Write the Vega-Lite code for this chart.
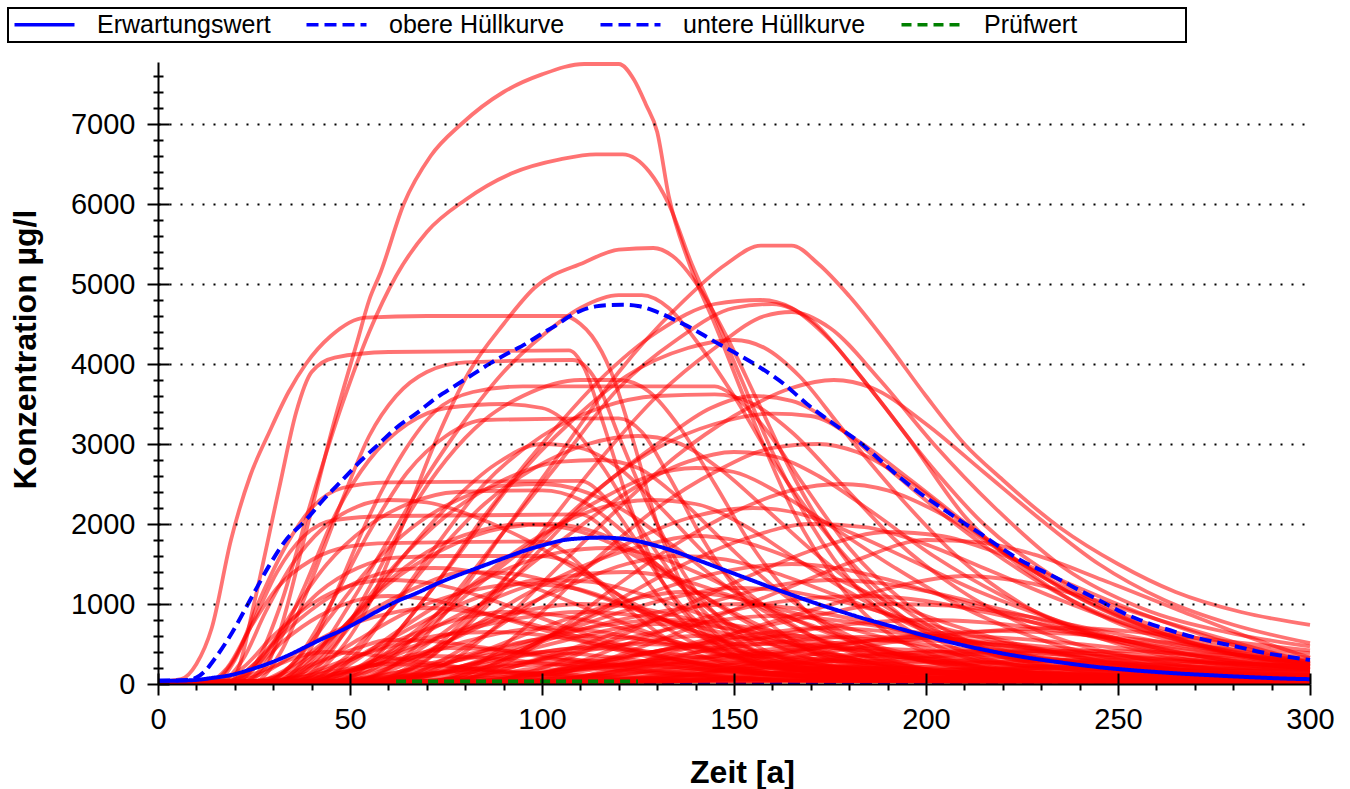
{
"$schema":"https://vega.github.io/schema/vega-lite/v6.json",
"width":1152,"height":622,
"autosize":"none",
"padding":{"left":158,"top":62,"right":40,"bottom":105},
"background":"white",
"config":{"view":{"stroke":null},"font":"Liberation Sans",
"legend":{"orient":"none","legendX":-150,"legendY":-54,"direction":"horizontal","columns":4,"strokeColor":"black","strokeWidth":2,"padding":4,"symbolType":"M-1,0H5","symbolSize":400,"symbolStrokeWidth":3.5,"labelFont":"Liberation Sans","labelFontSize":25,"labelColor":"black","labelOffset":60,"labelLimit":0,"columnPadding":28,"gridAlign":"each"}},
"datasets":{
"blue":[
{"s":"untere Hüllkurve","t":0,"v":0},{"s":"untere Hüllkurve","t":100,"v":0},{"s":"untere Hüllkurve","t":200,"v":0},{"s":"untere Hüllkurve","t":300,"v":0},
{"s":"Erwartungswert","t":0,"v":40},{"s":"Erwartungswert","t":5,"v":42},{"s":"Erwartungswert","t":9.6,"v":50},{"s":"Erwartungswert","t":14,"v":75},{"s":"Erwartungswert","t":19,"v":112},{"s":"Erwartungswert","t":24,"v":180},{"s":"Erwartungswert","t":29,"v":260},{"s":"Erwartungswert","t":34,"v":360},{"s":"Erwartungswert","t":38.5,"v":465},{"s":"Erwartungswert","t":43,"v":570},{"s":"Erwartungswert","t":48,"v":675},{"s":"Erwartungswert","t":53,"v":800},{"s":"Erwartungswert","t":57.7,"v":925},{"s":"Erwartungswert","t":62,"v":1030},{"s":"Erwartungswert","t":67.3,"v":1135},{"s":"Erwartungswert","t":72,"v":1240},{"s":"Erwartungswert","t":77,"v":1340},{"s":"Erwartungswert","t":82,"v":1430},{"s":"Erwartungswert","t":86.5,"v":1510},{"s":"Erwartungswert","t":91,"v":1590},{"s":"Erwartungswert","t":96,"v":1675},{"s":"Erwartungswert","t":101,"v":1745},{"s":"Erwartungswert","t":105.8,"v":1800},{"s":"Erwartungswert","t":110,"v":1820},{"s":"Erwartungswert","t":115.4,"v":1830},{"s":"Erwartungswert","t":120,"v":1820},{"s":"Erwartungswert","t":125,"v":1785},{"s":"Erwartungswert","t":130,"v":1725},{"s":"Erwartungswert","t":135,"v":1650},{"s":"Erwartungswert","t":140,"v":1560},{"s":"Erwartungswert","t":145,"v":1470},{"s":"Erwartungswert","t":150,"v":1380},{"s":"Erwartungswert","t":155,"v":1290},{"s":"Erwartungswert","t":160,"v":1200},{"s":"Erwartungswert","t":165,"v":1115},{"s":"Erwartungswert","t":170,"v":1030},{"s":"Erwartungswert","t":177,"v":920},{"s":"Erwartungswert","t":183,"v":830},{"s":"Erwartungswert","t":190,"v":735},{"s":"Erwartungswert","t":197,"v":640},{"s":"Erwartungswert","t":204,"v":550},{"s":"Erwartungswert","t":211,"v":470},{"s":"Erwartungswert","t":218,"v":400},{"s":"Erwartungswert","t":225,"v":340},{"s":"Erwartungswert","t":232,"v":290},{"s":"Erwartungswert","t":239,"v":245},{"s":"Erwartungswert","t":246,"v":205},{"s":"Erwartungswert","t":253,"v":175},{"s":"Erwartungswert","t":260,"v":150},{"s":"Erwartungswert","t":267,"v":128},{"s":"Erwartungswert","t":274,"v":110},{"s":"Erwartungswert","t":281,"v":93},{"s":"Erwartungswert","t":288,"v":78},{"s":"Erwartungswert","t":294,"v":67},{"s":"Erwartungswert","t":300,"v":60},
{"s":"obere Hüllkurve","t":0,"v":40},{"s":"obere Hüllkurve","t":8,"v":50},{"s":"obere Hüllkurve","t":10,"v":80},{"s":"obere Hüllkurve","t":12,"v":150},{"s":"obere Hüllkurve","t":15,"v":330},{"s":"obere Hüllkurve","t":19.2,"v":635},{"s":"obere Hüllkurve","t":24,"v":1050},{"s":"obere Hüllkurve","t":28.8,"v":1467},{"s":"obere Hüllkurve","t":33,"v":1780},{"s":"obere Hüllkurve","t":38.5,"v":2050},{"s":"obere Hüllkurve","t":43,"v":2300},{"s":"obere Hüllkurve","t":48,"v":2550},{"s":"obere Hüllkurve","t":53,"v":2800},{"s":"obere Hüllkurve","t":57.7,"v":3008},{"s":"obere Hüllkurve","t":62,"v":3200},{"s":"obere Hüllkurve","t":67.3,"v":3383},{"s":"obere Hüllkurve","t":72,"v":3560},{"s":"obere Hüllkurve","t":77,"v":3717},{"s":"obere Hüllkurve","t":82,"v":3870},{"s":"obere Hüllkurve","t":86.5,"v":4008},{"s":"obere Hüllkurve","t":91,"v":4130},{"s":"obere Hüllkurve","t":96,"v":4258},{"s":"obere Hüllkurve","t":100,"v":4380},{"s":"obere Hüllkurve","t":103.8,"v":4487},{"s":"obere Hüllkurve","t":107,"v":4590},{"s":"obere Hüllkurve","t":110.6,"v":4675},{"s":"obere Hüllkurve","t":114,"v":4720},{"s":"obere Hüllkurve","t":117.3,"v":4737},{"s":"obere Hüllkurve","t":121,"v":4740},{"s":"obere Hüllkurve","t":125,"v":4725},{"s":"obere Hüllkurve","t":130,"v":4650},{"s":"obere Hüllkurve","t":134.6,"v":4550},{"s":"obere Hüllkurve","t":140,"v":4420},{"s":"obere Hüllkurve","t":144.2,"v":4300},{"s":"obere Hüllkurve","t":150.5,"v":4133},{"s":"obere Hüllkurve","t":157,"v":3950},{"s":"obere Hüllkurve","t":163,"v":3750},{"s":"obere Hüllkurve","t":169,"v":3500},{"s":"obere Hüllkurve","t":176,"v":3250},{"s":"obere Hüllkurve","t":183,"v":3010},{"s":"obere Hüllkurve","t":188,"v":2800},{"s":"obere Hüllkurve","t":193,"v":2590},{"s":"obere Hüllkurve","t":198,"v":2400},{"s":"obere Hüllkurve","t":203.6,"v":2215},{"s":"obere Hüllkurve","t":209,"v":2040},{"s":"obere Hüllkurve","t":214,"v":1885},{"s":"obere Hüllkurve","t":219,"v":1720},{"s":"obere Hüllkurve","t":224.5,"v":1550},{"s":"obere Hüllkurve","t":230,"v":1420},{"s":"obere Hüllkurve","t":235,"v":1300},{"s":"obere Hüllkurve","t":240,"v":1170},{"s":"obere Hüllkurve","t":245,"v":1050},{"s":"obere Hüllkurve","t":250,"v":920},{"s":"obere Hüllkurve","t":255.7,"v":800},{"s":"obere Hüllkurve","t":261,"v":710},{"s":"obere Hüllkurve","t":266,"v":635},{"s":"obere Hüllkurve","t":271,"v":570},{"s":"obere Hüllkurve","t":276.6,"v":510},{"s":"obere Hüllkurve","t":282,"v":455},{"s":"obere Hüllkurve","t":287,"v":400},{"s":"obere Hüllkurve","t":293,"v":350},{"s":"obere Hüllkurve","t":300,"v":300},
{"s":"Prüfwert","t":62,"v":30},{"s":"Prüfwert","t":125,"v":30}
],
"red":[
{"k":1,"t":0,"v":30},{"k":1,"t":22,"v":30},{"k":1,"t":28,"v":200},{"k":1,"t":32,"v":700},{"k":1,"t":38,"v":1800},{"k":1,"t":46,"v":3300},{"k":1,"t":52,"v":4300},{"k":1,"t":55,"v":4800},{"k":1,"t":58,"v":5150},{"k":1,"t":64,"v":6000},{"k":1,"t":71,"v":6600},{"k":1,"t":79,"v":7000},{"k":1,"t":90,"v":7400},{"k":1,"t":100,"v":7620},{"k":1,"t":111,"v":7750},{"k":1,"t":120,"v":7750},{"k":1,"t":124,"v":7550},{"k":1,"t":127,"v":7250},{"k":1,"t":130,"v":6900},{"k":1,"t":133,"v":6100},{"k":1,"t":138,"v":5300},{"k":1,"t":145,"v":4500},{"k":1,"t":155,"v":3300},{"k":1,"t":165,"v":2200},{"k":1,"t":178,"v":1200},{"k":1,"t":195,"v":500},{"k":1,"t":225,"v":150},{"k":1,"t":300,"v":30},
{"k":2,"t":0,"v":30},{"k":2,"t":20,"v":30},{"k":2,"t":26,"v":300},{"k":2,"t":32,"v":1000},{"k":2,"t":40,"v":2300},{"k":2,"t":48,"v":3500},{"k":2,"t":55,"v":4400},{"k":2,"t":62,"v":5100},{"k":2,"t":70,"v":5650},{"k":2,"t":80,"v":6050},{"k":2,"t":92,"v":6380},{"k":2,"t":105,"v":6560},{"k":2,"t":114,"v":6620},{"k":2,"t":121,"v":6620},{"k":2,"t":128,"v":6400},{"k":2,"t":133,"v":6000},{"k":2,"t":139,"v":5250},{"k":2,"t":145,"v":4600},{"k":2,"t":152,"v":3800},{"k":2,"t":160,"v":2900},{"k":2,"t":170,"v":2000},{"k":2,"t":182,"v":1200},{"k":2,"t":198,"v":600},{"k":2,"t":220,"v":220},{"k":2,"t":260,"v":60},{"k":2,"t":300,"v":30},
{"k":3,"t":0,"v":30},{"k":3,"t":35,"v":30},{"k":3,"t":45,"v":300},{"k":3,"t":55,"v":1000},{"k":3,"t":63,"v":1900},{"k":3,"t":72,"v":3000},{"k":3,"t":81,"v":3900},{"k":3,"t":90,"v":4500},{"k":3,"t":98,"v":4950},{"k":3,"t":111,"v":5270},{"k":3,"t":120,"v":5430},{"k":3,"t":129,"v":5450},{"k":3,"t":134,"v":5350},{"k":3,"t":141,"v":4950},{"k":3,"t":148,"v":4350},{"k":3,"t":156,"v":3550},{"k":3,"t":166,"v":2550},{"k":3,"t":180,"v":1500},{"k":3,"t":198,"v":700},{"k":3,"t":222,"v":250},{"k":3,"t":260,"v":80},{"k":3,"t":300,"v":35},
{"k":4,"t":0,"v":30},{"k":4,"t":50,"v":30},{"k":4,"t":62,"v":250},{"k":4,"t":75,"v":900},{"k":4,"t":90,"v":1900},{"k":4,"t":105,"v":2900},{"k":4,"t":120,"v":3900},{"k":4,"t":135,"v":4700},{"k":4,"t":148,"v":5250},{"k":4,"t":157,"v":5480},{"k":4,"t":165,"v":5480},{"k":4,"t":172,"v":5250},{"k":4,"t":180,"v":4850},{"k":4,"t":190,"v":4250},{"k":4,"t":200,"v":3600},{"k":4,"t":210,"v":3000},{"k":4,"t":220,"v":2550},{"k":4,"t":235,"v":1950},{"k":4,"t":250,"v":1500},{"k":4,"t":265,"v":1150},{"k":4,"t":282,"v":900},{"k":4,"t":300,"v":740},
{"k":5,"t":0,"v":30},{"k":5,"t":40,"v":30},{"k":5,"t":55,"v":300},{"k":5,"t":70,"v":1100},{"k":5,"t":85,"v":2100},{"k":5,"t":100,"v":3000},{"k":5,"t":115,"v":3800},{"k":5,"t":130,"v":4400},{"k":5,"t":145,"v":4750},{"k":5,"t":157,"v":4800},{"k":5,"t":165,"v":4700},{"k":5,"t":175,"v":4300},{"k":5,"t":187,"v":3600},{"k":5,"t":200,"v":2800},{"k":5,"t":215,"v":2000},{"k":5,"t":232,"v":1380},{"k":5,"t":250,"v":900},{"k":5,"t":270,"v":580},{"k":5,"t":300,"v":385},
{"k":6,"t":0,"v":30},{"k":6,"t":45,"v":30},{"k":6,"t":60,"v":300},{"k":6,"t":75,"v":1000},{"k":6,"t":90,"v":1900},{"k":6,"t":105,"v":2800},{"k":6,"t":120,"v":3700},{"k":6,"t":135,"v":4300},{"k":6,"t":150,"v":4700},{"k":6,"t":160,"v":4750},{"k":6,"t":170,"v":4550},{"k":6,"t":182,"v":3900},{"k":6,"t":195,"v":3100},{"k":6,"t":210,"v":2100},{"k":6,"t":228,"v":1350},{"k":6,"t":248,"v":800},{"k":6,"t":272,"v":450},{"k":6,"t":300,"v":260},
{"k":7,"t":0,"v":30},{"k":7,"t":55,"v":30},{"k":7,"t":70,"v":300},{"k":7,"t":85,"v":1000},{"k":7,"t":100,"v":1900},{"k":7,"t":115,"v":2800},{"k":7,"t":130,"v":3600},{"k":7,"t":145,"v":4200},{"k":7,"t":158,"v":4600},{"k":7,"t":165,"v":4650},{"k":7,"t":175,"v":4450},{"k":7,"t":188,"v":3800},{"k":7,"t":202,"v":3000},{"k":7,"t":218,"v":2200},{"k":7,"t":236,"v":1450},{"k":7,"t":256,"v":950},{"k":7,"t":278,"v":650},{"k":7,"t":300,"v":470},
{"k":8,"t":0,"v":30},{"k":8,"t":60,"v":30},{"k":8,"t":75,"v":250},{"k":8,"t":90,"v":800},{"k":8,"t":105,"v":1500},{"k":8,"t":120,"v":2200},{"k":8,"t":135,"v":2850},{"k":8,"t":150,"v":3350},{"k":8,"t":165,"v":3700},{"k":8,"t":176,"v":3800},{"k":8,"t":186,"v":3700},{"k":8,"t":200,"v":3250},{"k":8,"t":215,"v":2650},{"k":8,"t":230,"v":2050},{"k":8,"t":245,"v":1500},{"k":8,"t":262,"v":1050},{"k":8,"t":280,"v":740},{"k":8,"t":300,"v":510},
{"k":9,"t":0,"v":30},{"k":9,"t":30,"v":30},{"k":9,"t":40,"v":300},{"k":9,"t":50,"v":1000},{"k":9,"t":60,"v":1800},{"k":9,"t":70,"v":2600},{"k":9,"t":80,"v":3300},{"k":9,"t":90,"v":3900},{"k":9,"t":100,"v":4350},{"k":9,"t":110,"v":4700},{"k":9,"t":120,"v":4860},{"k":9,"t":126,"v":4860},{"k":9,"t":133,"v":4700},{"k":9,"t":140,"v":4300},{"k":9,"t":150,"v":3600},{"k":9,"t":160,"v":2800},{"k":9,"t":172,"v":2000},{"k":9,"t":185,"v":1300},{"k":9,"t":200,"v":750},{"k":9,"t":230,"v":250},{"k":9,"t":300,"v":50},
{"k":10,"t":0,"v":30},{"k":10,"t":6,"v":60},{"k":10,"t":10,"v":250},{"k":10,"t":14,"v":700},{"k":10,"t":19,"v":1800},{"k":10,"t":24,"v":2600},{"k":10,"t":29,"v":3150},{"k":10,"t":34,"v":3650},{"k":10,"t":38.5,"v":4000},{"k":10,"t":45,"v":4350},{"k":10,"t":54,"v":4580},{"k":10,"t":70,"v":4600},{"k":10,"t":106,"v":4600},{"k":10,"t":110,"v":4500},{"k":10,"t":113,"v":4350},{"k":10,"t":118,"v":3900},{"k":10,"t":124,"v":3000},{"k":10,"t":130,"v":2000},{"k":10,"t":138,"v":1100},{"k":10,"t":150,"v":450},{"k":10,"t":170,"v":130},{"k":10,"t":220,"v":40},{"k":10,"t":300,"v":25},
{"k":11,"t":0,"v":30},{"k":11,"t":19,"v":30},{"k":11,"t":21,"v":200},{"k":11,"t":25,"v":1000},{"k":11,"t":31.7,"v":2480},{"k":11,"t":36,"v":3400},{"k":11,"t":40,"v":3900},{"k":11,"t":46,"v":4080},{"k":11,"t":60,"v":4150},{"k":11,"t":107,"v":4170},{"k":11,"t":111,"v":3950},{"k":11,"t":116,"v":3250},{"k":11,"t":122,"v":2350},{"k":11,"t":130,"v":1400},{"k":11,"t":142,"v":650},{"k":11,"t":160,"v":220},{"k":11,"t":200,"v":50},{"k":11,"t":300,"v":25},
{"k":12,"t":0,"v":30},{"k":12,"t":25,"v":30},{"k":12,"t":32,"v":400},{"k":12,"t":40,"v":1300},{"k":12,"t":48,"v":2300},{"k":12,"t":55,"v":3100},{"k":12,"t":62,"v":3600},{"k":12,"t":70,"v":3900},{"k":12,"t":80,"v":4020},{"k":12,"t":108,"v":4050},{"k":12,"t":114,"v":3800},{"k":12,"t":120,"v":3100},{"k":12,"t":128,"v":2200},{"k":12,"t":138,"v":1300},{"k":12,"t":152,"v":600},{"k":12,"t":175,"v":200},{"k":12,"t":300,"v":30},
{"k":13,"t":0,"v":30},{"k":13,"t":30,"v":30},{"k":13,"t":38,"v":300},{"k":13,"t":46,"v":1100},{"k":13,"t":55,"v":2100},{"k":13,"t":64,"v":2900},{"k":13,"t":72,"v":3400},{"k":13,"t":82,"v":3650},{"k":13,"t":95,"v":3720},{"k":13,"t":145,"v":3720},{"k":13,"t":150,"v":3600},{"k":13,"t":158,"v":3200},{"k":13,"t":168,"v":2500},{"k":13,"t":180,"v":1700},{"k":13,"t":195,"v":1000},{"k":13,"t":215,"v":450},{"k":13,"t":250,"v":120},{"k":13,"t":300,"v":40},
{"k":14,"t":0,"v":30},{"k":14,"t":40,"v":30},{"k":14,"t":50,"v":300},{"k":14,"t":60,"v":900},{"k":14,"t":72,"v":1700},{"k":14,"t":85,"v":2500},{"k":14,"t":100,"v":3100},{"k":14,"t":115,"v":3450},{"k":14,"t":130,"v":3600},{"k":14,"t":145,"v":3620},{"k":14,"t":155,"v":3500},{"k":14,"t":165,"v":3150},{"k":14,"t":178,"v":2500},{"k":14,"t":192,"v":1800},{"k":14,"t":208,"v":1200},{"k":14,"t":230,"v":650},{"k":14,"t":260,"v":280},{"k":14,"t":300,"v":110},
{"k":15,"t":0,"v":30},{"k":15,"t":55,"v":30},{"k":15,"t":68,"v":300},{"k":15,"t":82,"v":900},{"k":15,"t":98,"v":1700},{"k":15,"t":115,"v":2450},{"k":15,"t":130,"v":2950},{"k":15,"t":145,"v":3250},{"k":15,"t":160,"v":3380},{"k":15,"t":170,"v":3350},{"k":15,"t":182,"v":3050},{"k":15,"t":196,"v":2550},{"k":15,"t":212,"v":1950},{"k":15,"t":230,"v":1350},{"k":15,"t":250,"v":850},{"k":15,"t":275,"v":480},{"k":15,"t":300,"v":280},
{"k":16,"t":0,"v":30},{"k":16,"t":35,"v":30},{"k":16,"t":45,"v":400},{"k":16,"t":55,"v":1200},{"k":16,"t":65,"v":2100},{"k":16,"t":75,"v":2800},{"k":16,"t":85,"v":3300},{"k":16,"t":95,"v":3600},{"k":16,"t":110,"v":3800},{"k":16,"t":120,"v":3800},{"k":16,"t":128,"v":3650},{"k":16,"t":136,"v":3200},{"k":16,"t":145,"v":2500},{"k":16,"t":155,"v":1700},{"k":16,"t":168,"v":950},{"k":16,"t":185,"v":420},{"k":16,"t":210,"v":130},{"k":16,"t":300,"v":30},
{"k":17,"t":0,"v":30},{"k":17,"t":22,"v":30},{"k":17,"t":30,"v":400},{"k":17,"t":38,"v":1200},{"k":17,"t":46,"v":2100},{"k":17,"t":55,"v":2800},{"k":17,"t":65,"v":3250},{"k":17,"t":75,"v":3450},{"k":17,"t":90,"v":3500},{"k":17,"t":100,"v":3450},{"k":17,"t":108,"v":3200},{"k":17,"t":116,"v":2700},{"k":17,"t":125,"v":2000},{"k":17,"t":135,"v":1300},{"k":17,"t":148,"v":650},{"k":17,"t":165,"v":250},{"k":17,"t":300,"v":30},
{"k":18,"t":0,"v":30},{"k":18,"t":28,"v":30},{"k":18,"t":36,"v":300},{"k":18,"t":45,"v":1000},{"k":18,"t":55,"v":1900},{"k":18,"t":65,"v":2650},{"k":18,"t":75,"v":3100},{"k":18,"t":85,"v":3300},{"k":18,"t":120,"v":3320},{"k":18,"t":126,"v":3150},{"k":18,"t":133,"v":2600},{"k":18,"t":142,"v":1800},{"k":18,"t":152,"v":1100},{"k":18,"t":165,"v":550},{"k":18,"t":185,"v":200},{"k":18,"t":300,"v":30},
{"k":19,"t":0,"v":30},{"k":19,"t":15,"v":30},{"k":19,"t":20,"v":300},{"k":19,"t":26,"v":1000},{"k":19,"t":33,"v":1700},{"k":19,"t":40,"v":2200},{"k":19,"t":48,"v":2450},{"k":19,"t":60,"v":2520},{"k":19,"t":110,"v":2540},{"k":19,"t":116,"v":2350},{"k":19,"t":123,"v":1900},{"k":19,"t":131,"v":1300},{"k":19,"t":141,"v":750},{"k":19,"t":155,"v":350},{"k":19,"t":180,"v":100},{"k":19,"t":300,"v":25},
{"k":20,"t":0,"v":30},{"k":20,"t":14,"v":30},{"k":20,"t":19,"v":250},{"k":20,"t":25,"v":800},{"k":20,"t":31,"v":1400},{"k":20,"t":38,"v":1850},{"k":20,"t":46,"v":2050},{"k":20,"t":60,"v":2100},{"k":20,"t":110,"v":2120},{"k":20,"t":116,"v":1950},{"k":20,"t":123,"v":1550},{"k":20,"t":132,"v":1000},{"k":20,"t":143,"v":550},{"k":20,"t":160,"v":220},{"k":20,"t":300,"v":25},
{"k":21,"t":0,"v":30},{"k":21,"t":70,"v":30},{"k":21,"t":85,"v":300},{"k":21,"t":100,"v":900},{"k":21,"t":115,"v":1600},{"k":21,"t":130,"v":2200},{"k":21,"t":145,"v":2650},{"k":21,"t":160,"v":2950},{"k":21,"t":172,"v":3000},{"k":21,"t":182,"v":2900},{"k":21,"t":195,"v":2550},{"k":21,"t":210,"v":2000},{"k":21,"t":225,"v":1500},{"k":21,"t":245,"v":950},{"k":21,"t":265,"v":580},{"k":21,"t":285,"v":340},{"k":21,"t":300,"v":220},
{"k":22,"t":0,"v":30},{"k":22,"t":75,"v":30},{"k":22,"t":90,"v":250},{"k":22,"t":105,"v":700},{"k":22,"t":120,"v":1250},{"k":22,"t":135,"v":1750},{"k":22,"t":150,"v":2150},{"k":22,"t":165,"v":2420},{"k":22,"t":178,"v":2500},{"k":22,"t":190,"v":2420},{"k":22,"t":205,"v":2100},{"k":22,"t":220,"v":1650},{"k":22,"t":240,"v":1100},{"k":22,"t":260,"v":660},{"k":22,"t":280,"v":370},{"k":22,"t":300,"v":180},
{"k":23,"t":0,"v":30},{"k":23,"t":45,"v":30},{"k":23,"t":55,"v":250},{"k":23,"t":65,"v":800},{"k":23,"t":78,"v":1600},{"k":23,"t":92,"v":2500},{"k":23,"t":108,"v":3300},{"k":23,"t":122,"v":3850},{"k":23,"t":138,"v":4200},{"k":23,"t":150,"v":4300},{"k":23,"t":158,"v":4200},{"k":23,"t":167,"v":3850},{"k":23,"t":178,"v":3200},{"k":23,"t":192,"v":2400},{"k":23,"t":208,"v":1600},{"k":23,"t":225,"v":1000},{"k":23,"t":250,"v":500},{"k":23,"t":280,"v":220},{"k":23,"t":300,"v":140},
{"k":24,"t":0,"v":30},{"k":24,"t":30,"v":30},{"k":24,"t":40,"v":250},{"k":24,"t":50,"v":800},{"k":24,"t":62,"v":1500},{"k":24,"t":75,"v":2100},{"k":24,"t":90,"v":2550},{"k":24,"t":105,"v":2780},{"k":24,"t":115,"v":2800},{"k":24,"t":125,"v":2700},{"k":24,"t":135,"v":2350},{"k":24,"t":148,"v":1750},{"k":24,"t":162,"v":1150},{"k":24,"t":178,"v":650},{"k":24,"t":200,"v":280},{"k":24,"t":240,"v":80},{"k":24,"t":300,"v":30},
{"k":25,"t":0,"v":30},{"k":25,"t":45,"v":30},{"k":25,"t":55,"v":250},{"k":25,"t":68,"v":700},{"k":25,"t":82,"v":1250},{"k":25,"t":96,"v":1750},{"k":25,"t":112,"v":2150},{"k":25,"t":128,"v":2300},{"k":25,"t":140,"v":2250},{"k":25,"t":152,"v":2000},{"k":25,"t":165,"v":1600},{"k":25,"t":180,"v":1150},{"k":25,"t":198,"v":700},{"k":25,"t":220,"v":380},{"k":25,"t":250,"v":160},{"k":25,"t":300,"v":60},
{"k":26,"t":0,"v":30},{"k":26,"t":25,"v":30},{"k":26,"t":35,"v":200},{"k":26,"t":48,"v":700},{"k":26,"t":60,"v":1250},{"k":26,"t":75,"v":1700},{"k":26,"t":90,"v":1950},{"k":26,"t":102,"v":2000},{"k":26,"t":115,"v":1880},{"k":26,"t":128,"v":1550},{"k":26,"t":142,"v":1100},{"k":26,"t":158,"v":650},{"k":26,"t":178,"v":300},{"k":26,"t":210,"v":90},{"k":26,"t":300,"v":25},
{"k":27,"t":0,"v":30},{"k":27,"t":50,"v":30},{"k":27,"t":62,"v":200},{"k":27,"t":78,"v":600},{"k":27,"t":95,"v":1100},{"k":27,"t":112,"v":1500},{"k":27,"t":128,"v":1750},{"k":27,"t":140,"v":1850},{"k":27,"t":152,"v":1780},{"k":27,"t":166,"v":1550},{"k":27,"t":182,"v":1200},{"k":27,"t":200,"v":850},{"k":27,"t":222,"v":520},{"k":27,"t":250,"v":260},{"k":27,"t":300,"v":90},
{"k":28,"t":0,"v":30},{"k":28,"t":18,"v":30},{"k":28,"t":25,"v":250},{"k":28,"t":33,"v":700},{"k":28,"t":42,"v":1150},{"k":28,"t":52,"v":1450},{"k":28,"t":62,"v":1580},{"k":28,"t":75,"v":1600},{"k":28,"t":100,"v":1600},{"k":28,"t":108,"v":1500},{"k":28,"t":116,"v":1250},{"k":28,"t":126,"v":900},{"k":28,"t":138,"v":550},{"k":28,"t":155,"v":250},{"k":28,"t":180,"v":80},{"k":28,"t":300,"v":20},
{"k":29,"t":0,"v":30},{"k":29,"t":70,"v":30},{"k":29,"t":85,"v":200},{"k":29,"t":100,"v":550},{"k":29,"t":118,"v":950},{"k":29,"t":135,"v":1250},{"k":29,"t":150,"v":1430},{"k":29,"t":165,"v":1500},{"k":29,"t":178,"v":1440},{"k":29,"t":192,"v":1280},{"k":29,"t":210,"v":1020},{"k":29,"t":232,"v":720},{"k":29,"t":258,"v":450},{"k":29,"t":280,"v":290},{"k":29,"t":300,"v":190},
{"k":30,"t":0,"v":30},{"k":30,"t":40,"v":30},{"k":30,"t":52,"v":200},{"k":30,"t":66,"v":550},{"k":30,"t":82,"v":950},{"k":30,"t":98,"v":1250},{"k":30,"t":112,"v":1380},{"k":30,"t":122,"v":1400},{"k":30,"t":134,"v":1330},{"k":30,"t":148,"v":1120},{"k":30,"t":165,"v":820},{"k":30,"t":185,"v":500},{"k":30,"t":210,"v":240},{"k":30,"t":250,"v":70},{"k":30,"t":300,"v":25},
{"k":31,"t":0,"v":30},{"k":31,"t":30,"v":30},{"k":31,"t":40,"v":200},{"k":31,"t":52,"v":550},{"k":31,"t":65,"v":900},{"k":31,"t":80,"v":1150},{"k":31,"t":95,"v":1250},{"k":31,"t":108,"v":1200},{"k":31,"t":120,"v":1020},{"k":31,"t":135,"v":750},{"k":31,"t":152,"v":460},{"k":31,"t":172,"v":230},{"k":31,"t":200,"v":80},{"k":31,"t":300,"v":20},
{"k":32,"t":0,"v":30},{"k":32,"t":90,"v":30},{"k":32,"t":105,"v":200},{"k":32,"t":122,"v":500},{"k":32,"t":140,"v":800},{"k":32,"t":158,"v":1000},{"k":32,"t":172,"v":1080},{"k":32,"t":185,"v":1100},{"k":32,"t":198,"v":1050},{"k":32,"t":215,"v":900},{"k":32,"t":235,"v":700},{"k":32,"t":258,"v":490},{"k":32,"t":280,"v":340},{"k":32,"t":300,"v":240},
{"k":33,"t":0,"v":30},{"k":33,"t":60,"v":30},{"k":33,"t":75,"v":150},{"k":33,"t":92,"v":400},{"k":33,"t":110,"v":680},{"k":33,"t":128,"v":880},{"k":33,"t":142,"v":980},{"k":33,"t":152,"v":1000},{"k":33,"t":165,"v":950},{"k":33,"t":180,"v":820},{"k":33,"t":200,"v":600},{"k":33,"t":225,"v":380},{"k":33,"t":255,"v":190},{"k":33,"t":300,"v":60},
{"k":34,"t":0,"v":30},{"k":34,"t":35,"v":30},{"k":34,"t":48,"v":150},{"k":34,"t":62,"v":400},{"k":34,"t":78,"v":650},{"k":34,"t":95,"v":830},{"k":34,"t":110,"v":900},{"k":34,"t":122,"v":870},{"k":34,"t":136,"v":760},{"k":34,"t":152,"v":580},{"k":34,"t":170,"v":380},{"k":34,"t":195,"v":180},{"k":34,"t":230,"v":60},{"k":34,"t":300,"v":20},
{"k":35,"t":0,"v":30},{"k":35,"t":100,"v":30},{"k":35,"t":118,"v":150},{"k":35,"t":136,"v":350},{"k":35,"t":155,"v":550},{"k":35,"t":172,"v":700},{"k":35,"t":188,"v":780},{"k":35,"t":200,"v":800},{"k":35,"t":215,"v":770},{"k":35,"t":232,"v":680},{"k":35,"t":252,"v":540},{"k":35,"t":275,"v":400},{"k":35,"t":300,"v":280},
{"k":36,"t":0,"v":30},{"k":36,"t":55,"v":30},{"k":36,"t":70,"v":120},{"k":36,"t":87,"v":320},{"k":36,"t":104,"v":520},{"k":36,"t":118,"v":680},{"k":36,"t":130,"v":750},{"k":36,"t":142,"v":730},{"k":36,"t":158,"v":630},{"k":36,"t":176,"v":480},{"k":36,"t":198,"v":300},{"k":36,"t":225,"v":150},{"k":36,"t":260,"v":60},{"k":36,"t":300,"v":25},
{"k":37,"t":0,"v":30},{"k":37,"t":28,"v":30},{"k":37,"t":38,"v":120},{"k":37,"t":50,"v":320},{"k":37,"t":63,"v":500},{"k":37,"t":75,"v":620},{"k":37,"t":87,"v":650},{"k":37,"t":100,"v":610},{"k":37,"t":114,"v":500},{"k":37,"t":130,"v":350},{"k":37,"t":150,"v":200},{"k":37,"t":175,"v":90},{"k":37,"t":300,"v":20},
{"k":38,"t":0,"v":30},{"k":38,"t":80,"v":30},{"k":38,"t":98,"v":120},{"k":38,"t":118,"v":300},{"k":38,"t":136,"v":460},{"k":38,"t":152,"v":560},{"k":38,"t":166,"v":600},{"k":38,"t":180,"v":580},{"k":38,"t":198,"v":500},{"k":38,"t":220,"v":380},{"k":38,"t":248,"v":240},{"k":38,"t":275,"v":150},{"k":38,"t":300,"v":100},
{"k":39,"t":0,"v":30},{"k":39,"t":50,"v":30},{"k":39,"t":65,"v":100},{"k":39,"t":82,"v":250},{"k":39,"t":100,"v":400},{"k":39,"t":115,"v":480},{"k":39,"t":125,"v":500},{"k":39,"t":140,"v":470},{"k":39,"t":158,"v":380},{"k":39,"t":180,"v":260},{"k":39,"t":205,"v":150},{"k":39,"t":240,"v":60},{"k":39,"t":300,"v":20},
{"k":40,"t":0,"v":30},{"k":40,"t":120,"v":30},{"k":40,"t":140,"v":100},{"k":40,"t":160,"v":220},{"k":40,"t":180,"v":330},{"k":40,"t":200,"v":400},{"k":40,"t":218,"v":420},{"k":40,"t":235,"v":400},{"k":40,"t":255,"v":340},{"k":40,"t":278,"v":270},{"k":40,"t":300,"v":210},
{"k":41,"t":0,"v":30},{"k":41,"t":40,"v":30},{"k":41,"t":50,"v":250},{"k":41,"t":62,"v":650},{"k":41,"t":75,"v":1050},{"k":41,"t":90,"v":1420},{"k":41,"t":105,"v":1650},{"k":41,"t":117,"v":1700},{"k":41,"t":128,"v":1620},{"k":41,"t":140,"v":1400},{"k":41,"t":155,"v":1050},{"k":41,"t":172,"v":680},{"k":41,"t":195,"v":340},{"k":41,"t":225,"v":120},{"k":41,"t":300,"v":25},
{"k":42,"t":0,"v":30},{"k":42,"t":60,"v":30},{"k":42,"t":72,"v":250},{"k":42,"t":88,"v":700},{"k":42,"t":105,"v":1250},{"k":42,"t":122,"v":1750},{"k":42,"t":140,"v":2100},{"k":42,"t":155,"v":2200},{"k":42,"t":167,"v":2130},{"k":42,"t":180,"v":1900},{"k":42,"t":196,"v":1550},{"k":42,"t":214,"v":1150},{"k":42,"t":235,"v":780},{"k":42,"t":260,"v":450},{"k":42,"t":300,"v":180},
{"k":43,"t":0,"v":30},{"k":43,"t":15,"v":30},{"k":43,"t":22,"v":200},{"k":43,"t":30,"v":600},{"k":43,"t":40,"v":1000},{"k":43,"t":50,"v":1230},{"k":43,"t":60,"v":1300},{"k":43,"t":72,"v":1250},{"k":43,"t":85,"v":1080},{"k":43,"t":100,"v":820},{"k":43,"t":118,"v":520},{"k":43,"t":140,"v":260},{"k":43,"t":170,"v":90},{"k":43,"t":300,"v":20},
{"k":44,"t":0,"v":30},{"k":44,"t":20,"v":30},{"k":44,"t":28,"v":150},{"k":44,"t":38,"v":450},{"k":44,"t":48,"v":700},{"k":44,"t":60,"v":880},{"k":44,"t":70,"v":950},{"k":44,"t":82,"v":900},{"k":44,"t":96,"v":760},{"k":44,"t":112,"v":560},{"k":44,"t":132,"v":330},{"k":44,"t":155,"v":160},{"k":44,"t":190,"v":50},{"k":44,"t":300,"v":20},
{"k":45,"t":0,"v":30},{"k":45,"t":85,"v":30},{"k":45,"t":100,"v":200},{"k":45,"t":118,"v":550},{"k":45,"t":136,"v":950},{"k":45,"t":154,"v":1350},{"k":45,"t":172,"v":1700},{"k":45,"t":190,"v":1900},{"k":45,"t":204,"v":1850},{"k":45,"t":218,"v":1650},{"k":45,"t":235,"v":1300},{"k":45,"t":255,"v":900},{"k":45,"t":278,"v":520},{"k":45,"t":300,"v":220},
{"k":46,"t":0,"v":30},{"k":46,"t":100,"v":30},{"k":46,"t":118,"v":180},{"k":46,"t":138,"v":450},{"k":46,"t":158,"v":750},{"k":46,"t":178,"v":1030},{"k":46,"t":195,"v":1250},{"k":46,"t":210,"v":1350},{"k":46,"t":225,"v":1280},{"k":46,"t":242,"v":1080},{"k":46,"t":262,"v":780},{"k":46,"t":282,"v":500},{"k":46,"t":300,"v":260},
{"k":47,"t":0,"v":30},{"k":47,"t":45,"v":30},{"k":47,"t":57,"v":250},{"k":47,"t":70,"v":700},{"k":47,"t":85,"v":1300},{"k":47,"t":100,"v":1850},{"k":47,"t":115,"v":2300},{"k":47,"t":128,"v":2600},{"k":47,"t":140,"v":2700},{"k":47,"t":150,"v":2650},{"k":47,"t":162,"v":2380},{"k":47,"t":176,"v":1950},{"k":47,"t":192,"v":1450},{"k":47,"t":210,"v":950},{"k":47,"t":232,"v":520},{"k":47,"t":260,"v":220},{"k":47,"t":300,"v":70},
{"k":48,"t":0,"v":30},{"k":48,"t":38,"v":30},{"k":48,"t":48,"v":300},{"k":48,"t":60,"v":900},{"k":48,"t":72,"v":1600},{"k":48,"t":85,"v":2250},{"k":48,"t":98,"v":2700},{"k":48,"t":112,"v":3000},{"k":48,"t":125,"v":3100},{"k":48,"t":135,"v":3020},{"k":48,"t":146,"v":2700},{"k":48,"t":158,"v":2200},{"k":48,"t":172,"v":1600},{"k":48,"t":190,"v":950},{"k":48,"t":212,"v":450},{"k":48,"t":245,"v":150},{"k":48,"t":300,"v":35},
{"k":49,"t":0,"v":30},{"k":49,"t":20,"v":30},{"k":49,"t":27,"v":300},{"k":49,"t":35,"v":900},{"k":49,"t":44,"v":1500},{"k":49,"t":54,"v":1950},{"k":49,"t":65,"v":2250},{"k":49,"t":78,"v":2400},{"k":49,"t":100,"v":2420},{"k":49,"t":110,"v":2300},{"k":49,"t":120,"v":1950},{"k":49,"t":132,"v":1400},{"k":49,"t":146,"v":850},{"k":49,"t":165,"v":400},{"k":49,"t":190,"v":130},{"k":49,"t":300,"v":25},
{"k":50,"t":0,"v":30},{"k":50,"t":120,"v":30},{"k":50,"t":140,"v":120},{"k":50,"t":162,"v":300},{"k":50,"t":185,"v":480},{"k":50,"t":205,"v":610},{"k":50,"t":222,"v":680},{"k":50,"t":238,"v":700},{"k":50,"t":255,"v":650},{"k":50,"t":275,"v":550},{"k":50,"t":300,"v":420},
{"k":51,"t":0,"v":30},{"k":51,"t":50,"v":30},{"k":51,"t":65,"v":80},{"k":51,"t":80,"v":180},{"k":51,"t":95,"v":270},{"k":51,"t":105,"v":300},{"k":51,"t":118,"v":280},{"k":51,"t":135,"v":210},{"k":51,"t":155,"v":130},{"k":51,"t":180,"v":60},{"k":51,"t":300,"v":20},
{"k":52,"t":0,"v":30},{"k":52,"t":30,"v":30},{"k":52,"t":42,"v":80},{"k":52,"t":55,"v":220},{"k":52,"t":66,"v":360},{"k":52,"t":76,"v":450},{"k":52,"t":88,"v":430},{"k":52,"t":102,"v":350},{"k":52,"t":118,"v":240},{"k":52,"t":140,"v":120},{"k":52,"t":170,"v":40},{"k":52,"t":300,"v":20},
{"k":53,"t":0,"v":30},{"k":53,"t":75,"v":30},{"k":53,"t":92,"v":80},{"k":53,"t":110,"v":180},{"k":53,"t":128,"v":280},{"k":53,"t":142,"v":335},{"k":53,"t":152,"v":350},{"k":53,"t":166,"v":330},{"k":53,"t":184,"v":270},{"k":53,"t":206,"v":190},{"k":53,"t":235,"v":110},{"k":53,"t":270,"v":55},{"k":53,"t":300,"v":30},
{"k":54,"t":0,"v":30},{"k":54,"t":40,"v":30},{"k":54,"t":52,"v":120},{"k":54,"t":66,"v":320},{"k":54,"t":80,"v":530},{"k":54,"t":92,"v":660},{"k":54,"t":102,"v":700},{"k":54,"t":114,"v":660},{"k":54,"t":128,"v":540},{"k":54,"t":146,"v":370},{"k":54,"t":168,"v":200},{"k":54,"t":195,"v":80},{"k":54,"t":300,"v":20},
{"k":55,"t":0,"v":30},{"k":55,"t":55,"v":30},{"k":55,"t":68,"v":150},{"k":55,"t":84,"v":400},{"k":55,"t":100,"v":700},{"k":55,"t":116,"v":960},{"k":55,"t":128,"v":1100},{"k":55,"t":136,"v":1150},{"k":55,"t":146,"v":1110},{"k":55,"t":160,"v":960},{"k":55,"t":178,"v":720},{"k":55,"t":200,"v":450},{"k":55,"t":228,"v":210},{"k":55,"t":262,"v":80},{"k":55,"t":300,"v":30},
{"k":56,"t":0,"v":30},{"k":56,"t":95,"v":30},{"k":56,"t":112,"v":100},{"k":56,"t":132,"v":250},{"k":56,"t":152,"v":390},{"k":56,"t":170,"v":490},{"k":56,"t":185,"v":540},{"k":56,"t":195,"v":550},{"k":56,"t":210,"v":520},{"k":56,"t":230,"v":440},{"k":56,"t":255,"v":330},{"k":56,"t":280,"v":240},{"k":56,"t":300,"v":180},
{"k":57,"t":0,"v":30},{"k":57,"t":25,"v":30},{"k":57,"t":36,"v":80},{"k":57,"t":48,"v":180},{"k":57,"t":60,"v":250},{"k":57,"t":72,"v":230},{"k":57,"t":88,"v":170},{"k":57,"t":108,"v":100},{"k":57,"t":135,"v":45},{"k":57,"t":300,"v":20},
{"k":58,"t":0,"v":30},{"k":58,"t":70,"v":30},{"k":58,"t":85,"v":130},{"k":58,"t":102,"v":330},{"k":58,"t":120,"v":550},{"k":58,"t":138,"v":730},{"k":58,"t":150,"v":820},{"k":58,"t":160,"v":850},{"k":58,"t":172,"v":820},{"k":58,"t":188,"v":720},{"k":58,"t":208,"v":560},{"k":58,"t":232,"v":380},{"k":58,"t":262,"v":200},{"k":58,"t":300,"v":90},
{"k":59,"t":0,"v":30},{"k":59,"t":18,"v":30},{"k":59,"t":24,"v":200},{"k":59,"t":32,"v":600},{"k":59,"t":42,"v":1000},{"k":59,"t":54,"v":1320},{"k":59,"t":65,"v":1440},{"k":59,"t":72,"v":1450},{"k":59,"t":85,"v":1380},{"k":59,"t":98,"v":1200},{"k":59,"t":114,"v":900},{"k":59,"t":132,"v":570},{"k":59,"t":155,"v":280},{"k":59,"t":185,"v":90},{"k":59,"t":300,"v":20},
{"k":60,"t":0,"v":30},{"k":60,"t":30,"v":30},{"k":60,"t":38,"v":250},{"k":60,"t":48,"v":700},{"k":60,"t":58,"v":1200},{"k":60,"t":70,"v":1650},{"k":60,"t":84,"v":1920},{"k":60,"t":95,"v":2000},{"k":60,"t":105,"v":1960},{"k":60,"t":116,"v":1800},{"k":60,"t":128,"v":1500},{"k":60,"t":142,"v":1100},{"k":60,"t":158,"v":700},{"k":60,"t":180,"v":330},{"k":60,"t":210,"v":110},{"k":60,"t":300,"v":25},
{"k":61,"t":0,"v":30},{"k":61,"t":50,"v":30},{"k":61,"t":62,"v":250},{"k":61,"t":76,"v":700},{"k":61,"t":92,"v":1300},{"k":61,"t":108,"v":1900},{"k":61,"t":124,"v":2450},{"k":61,"t":138,"v":2780},{"k":61,"t":150,"v":2900},{"k":61,"t":160,"v":2850},{"k":61,"t":172,"v":2600},{"k":61,"t":186,"v":2150},{"k":61,"t":202,"v":1600},{"k":61,"t":220,"v":1100},{"k":61,"t":242,"v":650},{"k":61,"t":270,"v":320},{"k":61,"t":300,"v":160},
{"k":62,"t":0,"v":30},{"k":62,"t":13,"v":30},{"k":62,"t":18,"v":200},{"k":62,"t":24,"v":700},{"k":62,"t":31,"v":1200},{"k":62,"t":40,"v":1550},{"k":62,"t":50,"v":1720},{"k":62,"t":60,"v":1760},{"k":62,"t":100,"v":1780},{"k":62,"t":106,"v":1650},{"k":62,"t":113,"v":1350},{"k":62,"t":122,"v":950},{"k":62,"t":133,"v":550},{"k":62,"t":150,"v":230},{"k":62,"t":180,"v":60},{"k":62,"t":300,"v":20},
{"k":63,"t":0,"v":30},{"k":63,"t":38,"v":30},{"k":63,"t":50,"v":150},{"k":63,"t":64,"v":400},{"k":63,"t":80,"v":700},{"k":63,"t":96,"v":920},{"k":63,"t":110,"v":1000},{"k":63,"t":122,"v":970},{"k":63,"t":136,"v":840},{"k":63,"t":152,"v":640},{"k":63,"t":170,"v":420},{"k":63,"t":195,"v":200},{"k":63,"t":230,"v":70},{"k":63,"t":300,"v":20},
{"k":64,"t":0,"v":30},{"k":64,"t":60,"v":30},{"k":64,"t":76,"v":100},{"k":64,"t":94,"v":260},{"k":64,"t":112,"v":420},{"k":64,"t":128,"v":540},{"k":64,"t":140,"v":600},{"k":64,"t":152,"v":580},{"k":64,"t":168,"v":500},{"k":64,"t":188,"v":370},{"k":64,"t":212,"v":230},{"k":64,"t":245,"v":110},{"k":64,"t":300,"v":35},
{"k":65,"t":0,"v":30},{"k":65,"t":40,"v":30},{"k":65,"t":54,"v":80},{"k":65,"t":68,"v":200},{"k":65,"t":82,"v":330},{"k":65,"t":95,"v":400},{"k":65,"t":108,"v":380},{"k":65,"t":124,"v":300},{"k":65,"t":144,"v":190},{"k":65,"t":170,"v":90},{"k":65,"t":210,"v":30},{"k":65,"t":300,"v":20},
{"k":66,"t":0,"v":30},{"k":66,"t":75,"v":30},{"k":66,"t":90,"v":180},{"k":66,"t":108,"v":450},{"k":66,"t":126,"v":750},{"k":66,"t":144,"v":1020},{"k":66,"t":160,"v":1220},{"k":66,"t":175,"v":1300},{"k":66,"t":188,"v":1260},{"k":66,"t":204,"v":1120},{"k":66,"t":222,"v":900},{"k":66,"t":245,"v":620},{"k":66,"t":270,"v":360},{"k":66,"t":300,"v":200},
{"k":67,"t":0,"v":30},{"k":67,"t":100,"v":30},{"k":67,"t":125,"v":80},{"k":67,"t":150,"v":150},{"k":67,"t":170,"v":190},{"k":67,"t":182,"v":200},{"k":67,"t":200,"v":185},{"k":67,"t":225,"v":150},{"k":67,"t":255,"v":100},{"k":67,"t":300,"v":60},
{"k":68,"t":0,"v":30},{"k":68,"t":16,"v":30},{"k":68,"t":22,"v":300},{"k":68,"t":28,"v":900},{"k":68,"t":35,"v":1500},{"k":68,"t":43,"v":1950},{"k":68,"t":52,"v":2220},{"k":68,"t":60,"v":2300},{"k":68,"t":70,"v":2270},{"k":68,"t":82,"v":2100},{"k":68,"t":96,"v":1800},{"k":68,"t":110,"v":1400},{"k":68,"t":126,"v":950},{"k":68,"t":145,"v":520},{"k":68,"t":170,"v":200},{"k":68,"t":210,"v":50},{"k":68,"t":300,"v":20},
{"k":69,"t":0,"v":30},{"k":69,"t":55,"v":30},{"k":69,"t":68,"v":250},{"k":69,"t":82,"v":800},{"k":69,"t":98,"v":1600},{"k":69,"t":114,"v":2400},{"k":69,"t":130,"v":3000},{"k":69,"t":144,"v":3450},{"k":69,"t":155,"v":3600},{"k":69,"t":165,"v":3540},{"k":69,"t":176,"v":3250},{"k":69,"t":190,"v":2700},{"k":69,"t":205,"v":2100},{"k":69,"t":222,"v":1500},{"k":69,"t":242,"v":950},{"k":69,"t":265,"v":560},{"k":69,"t":285,"v":360},{"k":69,"t":300,"v":250},
{"k":70,"t":0,"v":30},{"k":70,"t":32,"v":30},{"k":70,"t":42,"v":300},{"k":70,"t":53,"v":900},{"k":70,"t":64,"v":1600},{"k":70,"t":76,"v":2250},{"k":70,"t":88,"v":2750},{"k":70,"t":100,"v":3000},{"k":70,"t":110,"v":2950},{"k":70,"t":120,"v":2700},{"k":70,"t":130,"v":2250},{"k":70,"t":142,"v":1650},{"k":70,"t":156,"v":1050},{"k":70,"t":172,"v":560},{"k":70,"t":195,"v":220},{"k":70,"t":230,"v":60},{"k":70,"t":300,"v":25},
{"k":71,"t":0,"v":30},{"k":71,"t":40,"v":30},{"k":71,"t":55,"v":70},{"k":71,"t":68,"v":120},{"k":71,"t":80,"v":150},{"k":71,"t":95,"v":140},{"k":71,"t":115,"v":100},{"k":71,"t":140,"v":55},{"k":71,"t":300,"v":20},
{"k":72,"t":0,"v":30},{"k":72,"t":70,"v":30},{"k":72,"t":88,"v":80},{"k":72,"t":105,"v":160},{"k":72,"t":120,"v":225},{"k":72,"t":132,"v":250},{"k":72,"t":148,"v":235},{"k":72,"t":168,"v":180},{"k":72,"t":195,"v":110},{"k":72,"t":230,"v":55},{"k":72,"t":300,"v":25},
{"k":73,"t":0,"v":30},{"k":73,"t":110,"v":30},{"k":73,"t":130,"v":80},{"k":73,"t":150,"v":170},{"k":73,"t":170,"v":260},{"k":73,"t":188,"v":320},{"k":73,"t":200,"v":350},{"k":73,"t":218,"v":340},{"k":73,"t":240,"v":290},{"k":73,"t":265,"v":220},{"k":73,"t":300,"v":140},
{"k":74,"t":0,"v":30},{"k":74,"t":45,"v":30},{"k":74,"t":58,"v":100},{"k":74,"t":72,"v":270},{"k":74,"t":86,"v":430},{"k":74,"t":98,"v":550},{"k":74,"t":110,"v":600},{"k":74,"t":124,"v":570},{"k":74,"t":140,"v":470},{"k":74,"t":160,"v":320},{"k":74,"t":185,"v":170},{"k":74,"t":215,"v":70},{"k":74,"t":300,"v":20},
{"k":75,"t":0,"v":30},{"k":75,"t":90,"v":30},{"k":75,"t":108,"v":90},{"k":75,"t":126,"v":200},{"k":75,"t":144,"v":310},{"k":75,"t":160,"v":400},{"k":75,"t":175,"v":450},{"k":75,"t":190,"v":440},{"k":75,"t":208,"v":390},{"k":75,"t":230,"v":300},{"k":75,"t":258,"v":200},{"k":75,"t":300,"v":110},
{"k":76,"t":0,"v":30},{"k":76,"t":50,"v":30},{"k":76,"t":64,"v":120},{"k":76,"t":80,"v":320},{"k":76,"t":96,"v":530},{"k":76,"t":112,"v":700},{"k":76,"t":124,"v":780},{"k":76,"t":132,"v":800},{"k":76,"t":144,"v":770},{"k":76,"t":160,"v":660},{"k":76,"t":180,"v":480},{"k":76,"t":205,"v":280},{"k":76,"t":235,"v":120},{"k":76,"t":300,"v":30},
{"k":77,"t":0,"v":30},{"k":77,"t":130,"v":30},{"k":77,"t":155,"v":80},{"k":77,"t":180,"v":160},{"k":77,"t":205,"v":240},{"k":77,"t":225,"v":285},{"k":77,"t":240,"v":300},{"k":77,"t":258,"v":290},{"k":77,"t":278,"v":260},{"k":77,"t":300,"v":220},
{"k":78,"t":0,"v":30},{"k":78,"t":60,"v":30},{"k":78,"t":74,"v":150},{"k":78,"t":90,"v":400},{"k":78,"t":108,"v":700},{"k":78,"t":124,"v":950},{"k":78,"t":138,"v":1120},{"k":78,"t":150,"v":1200},{"k":78,"t":162,"v":1170},{"k":78,"t":178,"v":1030},{"k":78,"t":196,"v":800},{"k":78,"t":218,"v":540},{"k":78,"t":245,"v":290},{"k":78,"t":275,"v":130},{"k":78,"t":300,"v":70},
{"k":79,"t":0,"v":30},{"k":79,"t":22,"v":30},{"k":79,"t":32,"v":100},{"k":79,"t":42,"v":280},{"k":79,"t":52,"v":450},{"k":79,"t":60,"v":550},{"k":79,"t":70,"v":540},{"k":79,"t":84,"v":460},{"k":79,"t":100,"v":340},{"k":79,"t":120,"v":200},{"k":79,"t":145,"v":90},{"k":79,"t":180,"v":35},{"k":79,"t":300,"v":20},
{"k":80,"t":0,"v":30},{"k":80,"t":110,"v":30},{"k":80,"t":128,"v":100},{"k":80,"t":148,"v":250},{"k":80,"t":168,"v":420},{"k":80,"t":188,"v":560},{"k":80,"t":205,"v":640},{"k":80,"t":220,"v":660},{"k":80,"t":236,"v":630},{"k":80,"t":254,"v":560},{"k":80,"t":276,"v":450},{"k":80,"t":300,"v":330},
{"k":81,"t":0,"v":30},{"k":81,"t":30,"v":30},{"k":81,"t":42,"v":150},{"k":81,"t":55,"v":400},{"k":81,"t":68,"v":650},{"k":81,"t":80,"v":830},{"k":81,"t":90,"v":900},{"k":81,"t":102,"v":870},{"k":81,"t":116,"v":750},{"k":81,"t":132,"v":560},{"k":81,"t":150,"v":360},{"k":81,"t":172,"v":180},{"k":81,"t":200,"v":70},{"k":81,"t":300,"v":20},
{"k":82,"t":0,"v":30},{"k":82,"t":80,"v":30},{"k":82,"t":100,"v":60},{"k":82,"t":120,"v":110},{"k":82,"t":140,"v":165},{"k":82,"t":160,"v":200},{"k":82,"t":180,"v":190},{"k":82,"t":205,"v":150},{"k":82,"t":235,"v":100},{"k":82,"t":270,"v":60},{"k":82,"t":300,"v":40},
{"k":83,"t":0,"v":30},{"k":83,"t":85,"v":30},{"k":83,"t":102,"v":120},{"k":83,"t":120,"v":300},{"k":83,"t":138,"v":500},{"k":83,"t":155,"v":690},{"k":83,"t":172,"v":860},{"k":83,"t":190,"v":1000},{"k":83,"t":206,"v":980},{"k":83,"t":222,"v":880},{"k":83,"t":242,"v":700},{"k":83,"t":265,"v":490},{"k":83,"t":285,"v":340},{"k":83,"t":300,"v":250},
{"k":84,"t":0,"v":30},{"k":84,"t":65,"v":30},{"k":84,"t":82,"v":90},{"k":84,"t":100,"v":210},{"k":84,"t":118,"v":330},{"k":84,"t":134,"v":430},{"k":84,"t":150,"v":500},{"k":84,"t":165,"v":490},{"k":84,"t":182,"v":430},{"k":84,"t":202,"v":340},{"k":84,"t":228,"v":220},{"k":84,"t":260,"v":110},{"k":84,"t":300,"v":45},
{"k":85,"t":0,"v":30},{"k":85,"t":48,"v":30},{"k":85,"t":60,"v":200},{"k":85,"t":75,"v":520},{"k":85,"t":92,"v":900},{"k":85,"t":108,"v":1250},{"k":85,"t":122,"v":1500},{"k":85,"t":135,"v":1600},{"k":85,"t":147,"v":1560},{"k":85,"t":160,"v":1400},{"k":85,"t":176,"v":1120},{"k":85,"t":195,"v":780},{"k":85,"t":218,"v":450},{"k":85,"t":245,"v":200},{"k":85,"t":300,"v":50},
{"k":86,"t":0,"v":30},{"k":86,"t":30,"v":30},{"k":86,"t":42,"v":90},{"k":86,"t":55,"v":220},{"k":86,"t":70,"v":350},{"k":86,"t":84,"v":330},{"k":86,"t":100,"v":260},{"k":86,"t":120,"v":170},{"k":86,"t":145,"v":90},{"k":86,"t":180,"v":40},{"k":86,"t":300,"v":20},
{"k":87,"t":0,"v":30},{"k":87,"t":80,"v":30},{"k":87,"t":96,"v":110},{"k":87,"t":114,"v":270},{"k":87,"t":132,"v":430},{"k":87,"t":150,"v":580},{"k":87,"t":162,"v":660},{"k":87,"t":172,"v":700},{"k":87,"t":184,"v":680},{"k":87,"t":200,"v":600},{"k":87,"t":222,"v":470},{"k":87,"t":248,"v":320},{"k":87,"t":275,"v":200},{"k":87,"t":300,"v":120},
{"k":88,"t":0,"v":30},{"k":88,"t":35,"v":30},{"k":88,"t":46,"v":200},{"k":88,"t":58,"v":500},{"k":88,"t":72,"v":850},{"k":88,"t":86,"v":1130},{"k":88,"t":100,"v":1300},{"k":88,"t":112,"v":1280},{"k":88,"t":124,"v":1150},{"k":88,"t":138,"v":930},{"k":88,"t":155,"v":650},{"k":88,"t":175,"v":380},{"k":88,"t":200,"v":160},{"k":88,"t":240,"v":50},{"k":88,"t":300,"v":20},
{"k":89,"t":0,"v":30},{"k":89,"t":150,"v":30},{"k":89,"t":175,"v":70},{"k":89,"t":200,"v":130},{"k":89,"t":225,"v":190},{"k":89,"t":250,"v":235},{"k":89,"t":270,"v":250},{"k":89,"t":285,"v":245},{"k":89,"t":300,"v":235},
{"k":90,"t":0,"v":30},{"k":90,"t":130,"v":30},{"k":90,"t":150,"v":90},{"k":90,"t":170,"v":190},{"k":90,"t":190,"v":290},{"k":90,"t":210,"v":370},{"k":90,"t":230,"v":410},{"k":90,"t":250,"v":410},{"k":90,"t":268,"v":380},{"k":90,"t":285,"v":340},{"k":90,"t":300,"v":300},
{"k":91,"t":0,"v":30},{"k":91,"t":55,"v":30},{"k":91,"t":70,"v":100},{"k":91,"t":85,"v":240},{"k":91,"t":98,"v":380},{"k":91,"t":110,"v":450},{"k":91,"t":122,"v":430},{"k":91,"t":138,"v":350},{"k":91,"t":158,"v":240},{"k":91,"t":182,"v":130},{"k":91,"t":210,"v":60},{"k":91,"t":300,"v":20},
{"k":92,"t":0,"v":30},{"k":92,"t":70,"v":30},{"k":92,"t":85,"v":200},{"k":92,"t":100,"v":550},{"k":92,"t":118,"v":1000},{"k":92,"t":135,"v":1450},{"k":92,"t":152,"v":1800},{"k":92,"t":170,"v":2000},{"k":92,"t":184,"v":1960},{"k":92,"t":198,"v":1780},{"k":92,"t":215,"v":1450},{"k":92,"t":235,"v":1050},{"k":92,"t":258,"v":650},{"k":92,"t":280,"v":380},{"k":92,"t":300,"v":230},
{"k":93,"t":0,"v":30},{"k":93,"t":120,"v":30},{"k":93,"t":150,"v":70},{"k":93,"t":180,"v":120},{"k":93,"t":200,"v":150},{"k":93,"t":225,"v":140},{"k":93,"t":260,"v":100},{"k":93,"t":300,"v":65},
{"k":94,"t":0,"v":30},{"k":94,"t":18,"v":30},{"k":94,"t":25,"v":200},{"k":94,"t":33,"v":550},{"k":94,"t":42,"v":850},{"k":94,"t":52,"v":1050},{"k":94,"t":60,"v":1100},{"k":94,"t":70,"v":1060},{"k":94,"t":84,"v":900},{"k":94,"t":100,"v":680},{"k":94,"t":120,"v":420},{"k":94,"t":145,"v":200},{"k":94,"t":175,"v":70},{"k":94,"t":300,"v":20},
{"k":95,"t":0,"v":30},{"k":95,"t":100,"v":30},{"k":95,"t":118,"v":100},{"k":95,"t":138,"v":230},{"k":95,"t":158,"v":370},{"k":95,"t":176,"v":480},{"k":95,"t":190,"v":560},{"k":95,"t":200,"v":600},{"k":95,"t":215,"v":590},{"k":95,"t":235,"v":520},{"k":95,"t":258,"v":410},{"k":95,"t":280,"v":310},{"k":95,"t":300,"v":230},
{"k":96,"t":0,"v":30},{"k":96,"t":15,"v":30},{"k":96,"t":22,"v":80},{"k":96,"t":30,"v":220},{"k":96,"t":38,"v":360},{"k":96,"t":44,"v":400},{"k":96,"t":52,"v":380},{"k":96,"t":65,"v":300},{"k":96,"t":82,"v":190},{"k":96,"t":105,"v":90},{"k":96,"t":135,"v":35},{"k":96,"t":300,"v":20},
{"k":97,"t":0,"v":30},{"k":97,"t":28,"v":30},{"k":97,"t":36,"v":300},{"k":97,"t":45,"v":850},{"k":97,"t":55,"v":1450},{"k":97,"t":66,"v":1950},{"k":97,"t":78,"v":2300},{"k":97,"t":90,"v":2480},{"k":97,"t":100,"v":2500},{"k":97,"t":110,"v":2420},{"k":97,"t":122,"v":2150},{"k":97,"t":135,"v":1700},{"k":97,"t":150,"v":1150},{"k":97,"t":168,"v":650},{"k":97,"t":190,"v":280},{"k":97,"t":220,"v":80},{"k":97,"t":300,"v":25},
{"k":98,"t":0,"v":30},{"k":98,"t":95,"v":30},{"k":98,"t":110,"v":200},{"k":98,"t":128,"v":500},{"k":98,"t":146,"v":850},{"k":98,"t":164,"v":1200},{"k":98,"t":182,"v":1550},{"k":98,"t":200,"v":1800},{"k":98,"t":214,"v":1770},{"k":98,"t":228,"v":1620},{"k":98,"t":246,"v":1300},{"k":98,"t":266,"v":920},{"k":98,"t":285,"v":570},{"k":98,"t":300,"v":330},
{"k":99,"t":0,"v":30},{"k":99,"t":120,"v":30},{"k":99,"t":140,"v":70},{"k":99,"t":160,"v":140},{"k":99,"t":180,"v":210},{"k":99,"t":198,"v":270},{"k":99,"t":212,"v":300},{"k":99,"t":230,"v":290},{"k":99,"t":255,"v":250},{"k":99,"t":280,"v":200},{"k":99,"t":300,"v":170},
{"k":100,"t":0,"v":30},{"k":100,"t":25,"v":30},{"k":100,"t":34,"v":200},{"k":100,"t":44,"v":550},{"k":100,"t":55,"v":900},{"k":100,"t":67,"v":1200},{"k":100,"t":80,"v":1400},{"k":100,"t":92,"v":1380},{"k":100,"t":106,"v":1230},{"k":100,"t":122,"v":970},{"k":100,"t":140,"v":660},{"k":100,"t":160,"v":370},{"k":100,"t":185,"v":150},{"k":100,"t":220,"v":40},{"k":100,"t":300,"v":20},
{"k":101,"t":0,"v":30},{"k":101,"t":110,"v":30},{"k":101,"t":130,"v":90},{"k":101,"t":150,"v":200},{"k":101,"t":170,"v":310},{"k":101,"t":190,"v":380},{"k":101,"t":208,"v":400},{"k":101,"t":225,"v":390},{"k":101,"t":248,"v":340},{"k":101,"t":272,"v":270},{"k":101,"t":300,"v":200},
{"k":102,"t":0,"v":30},{"k":102,"t":90,"v":30},{"k":102,"t":110,"v":80},{"k":102,"t":130,"v":170},{"k":102,"t":150,"v":240},{"k":102,"t":170,"v":280},{"k":102,"t":185,"v":290},{"k":102,"t":205,"v":270},{"k":102,"t":230,"v":220},{"k":102,"t":260,"v":160},{"k":102,"t":300,"v":100},
{"k":103,"t":0,"v":30},{"k":103,"t":100,"v":30},{"k":103,"t":125,"v":60},{"k":103,"t":150,"v":110},{"k":103,"t":175,"v":160},{"k":103,"t":200,"v":190},{"k":103,"t":225,"v":200},{"k":103,"t":250,"v":190},{"k":103,"t":275,"v":170},{"k":103,"t":300,"v":150},
{"k":104,"t":0,"v":30},{"k":104,"t":70,"v":30},{"k":104,"t":90,"v":90},{"k":104,"t":110,"v":200},{"k":104,"t":130,"v":300},{"k":104,"t":148,"v":360},{"k":104,"t":162,"v":380},{"k":104,"t":180,"v":360},{"k":104,"t":205,"v":300},{"k":104,"t":235,"v":210},{"k":104,"t":270,"v":130},{"k":104,"t":300,"v":80},
{"k":105,"t":0,"v":30},{"k":105,"t":130,"v":30},{"k":105,"t":150,"v":60},{"k":105,"t":175,"v":120},{"k":105,"t":200,"v":170},{"k":105,"t":225,"v":200},{"k":105,"t":250,"v":210},{"k":105,"t":275,"v":200},{"k":105,"t":300,"v":185},
{"k":106,"t":0,"v":30},{"k":106,"t":60,"v":30},{"k":106,"t":78,"v":70},{"k":106,"t":96,"v":150},{"k":106,"t":114,"v":220},{"k":106,"t":130,"v":260},{"k":106,"t":145,"v":270},{"k":106,"t":162,"v":250},{"k":106,"t":185,"v":200},{"k":106,"t":215,"v":130},{"k":106,"t":250,"v":70},{"k":106,"t":300,"v":30},
{"k":107,"t":0,"v":30},{"k":107,"t":85,"v":30},{"k":107,"t":105,"v":120},{"k":107,"t":125,"v":280},{"k":107,"t":145,"v":430},{"k":107,"t":165,"v":540},{"k":107,"t":182,"v":590},{"k":107,"t":198,"v":580},{"k":107,"t":218,"v":520},{"k":107,"t":242,"v":420},{"k":107,"t":270,"v":300},{"k":107,"t":300,"v":190},
{"k":108,"t":0,"v":30},{"k":108,"t":45,"v":30},{"k":108,"t":60,"v":70},{"k":108,"t":75,"v":150},{"k":108,"t":90,"v":220},{"k":108,"t":105,"v":250},{"k":108,"t":120,"v":240},{"k":108,"t":140,"v":190},{"k":108,"t":165,"v":120},{"k":108,"t":195,"v":60},{"k":108,"t":300,"v":20}
]},
"layer":[
{"data":{"name":"blue"},"transform":[{"filter":"datum.s === 'untere Hüllkurve'"}],
 "mark":{"type":"line","strokeWidth":4,"interpolate":"monotone","clip":true},
 "encoding":{
  "x":{"field":"t","type":"quantitative","scale":{"domain":[0,300],"nice":false,"zero":false},"axis":null},
  "y":{"field":"v","type":"quantitative","scale":{"domain":[0,7775],"nice":false},"axis":null},
  "color":{"field":"s","type":"nominal","scale":{"domain":["Erwartungswert","obere Hüllkurve","untere Hüllkurve","Prüfwert"],"range":["#0000ff","#0000ff","#0000ff","#008000"]},"legend":{"title":null,"labelExpr":"datum.label === 'Prüfwert' ? 'Prüfwert\u00a0\u00a0\u00a0\u00a0\u00a0\u00a0\u00a0\u00a0\u00a0\u00a0\u00a0\u00a0\u00a0\u00a0\u00a0\u200b' : datum.label"}},
  "strokeDash":{"field":"s","type":"nominal","scale":{"domain":["Erwartungswert","obere Hüllkurve","untere Hüllkurve","Prüfwert"],"range":[[1,0],[12,6],[12,6],[10,6]]},"legend":{"title":null,"labelExpr":"datum.label === 'Prüfwert' ? 'Prüfwert\u00a0\u00a0\u00a0\u00a0\u00a0\u00a0\u00a0\u00a0\u00a0\u00a0\u00a0\u00a0\u00a0\u00a0\u00a0\u200b' : datum.label"}}
 }},
{"data":{"name":"red"},
 "mark":{"type":"line","color":"#ff0000","strokeWidth":3.8,"opacity":0.55,"interpolate":"monotone"},
 "encoding":{
  "x":{"field":"t","type":"quantitative","scale":{"domain":[0,300],"nice":false,"zero":false},
   "axis":{"orient":"bottom","zindex":1,"values":[0,10,20,30,40,50,60,70,80,90,100,110,120,130,140,150,160,170,180,190,200,210,220,230,240,250,260,270,280,290,300],
    "labelExpr":"datum.value % 50 === 0 ? datum.label : ''",
    "tickSize":{"condition":{"test":"datum.value % 50 === 0","value":11},"value":6},
    "tickWidth":2,"tickColor":"black","domainColor":"black","domainWidth":2,"grid":false,
    "labelFont":"Liberation Sans","labelFontSize":29,"labelColor":"black","labelPadding":10,"labelFlush":false,"labelOverlap":false,
    "title":"Zeit [a]","titleFont":"Liberation Sans","titleFontSize":32,"titleFontWeight":"bold","titleColor":"black","titleX":584,"titleY":88,"titleBaseline":"middle","titleAlign":"center"}},
  "y":{"field":"v","type":"quantitative","scale":{"domain":[0,7775],"nice":false},
   "axis":{"orient":"left","zindex":1,"values":[0,200,400,600,800,1000,1200,1400,1600,1800,2000,2200,2400,2600,2800,3000,3200,3400,3600,3800,4000,4200,4400,4600,4800,5000,5200,5400,5600,5800,6000,6200,6400,6600,6800,7000,7200,7400,7600],
    "format":"d","labelExpr":"datum.value % 1000 === 0 ? datum.label : ''",
    "tickSize":{"condition":{"test":"datum.value % 1000 === 0","value":11},"value":5},
    "tickWidth":2,"tickColor":"black","domainColor":"black","domainWidth":2,
    "grid":true,"gridColor":"black","gridWidth":2,"gridDash":[2,9],
    "gridOpacity":{"condition":{"test":"datum.value % 1000 === 0 && datum.value > 0","value":1},"value":0},
    "labelFont":"Liberation Sans","labelFontSize":29,"labelColor":"black","labelPadding":12,"labelOverlap":false,
    "title":"Konzentration µg/l","titleFont":"Liberation Sans","titleFontSize":32,"titleFontWeight":"bold","titleColor":"black","titleX":-133,"titleY":287,"titleBaseline":"middle","titleAlign":"center","titleAngle":-90}},
  "detail":{"field":"k","type":"nominal"}
 }},
{"data":{"name":"blue"},"transform":[{"filter":"datum.s !== 'untere Hüllkurve'"}],
 "mark":{"type":"line","strokeWidth":4,"interpolate":"monotone"},
 "encoding":{
  "x":{"field":"t","type":"quantitative","scale":{"domain":[0,300],"nice":false,"zero":false},
   "axis":{"orient":"bottom","values":[0,50,100,150,200,250,300],"tickSize":-11,"tickWidth":2,"tickColor":"black","labels":false,"domain":false,"grid":false,"title":null,"zindex":1}},
  "y":{"field":"v","type":"quantitative","scale":{"domain":[0,7775],"nice":false},
   "axis":{"orient":"left","values":[0,200,400,600,800,1000,1200,1400,1600,1800,2000,2200,2400,2600,2800,3000,3200,3400,3600,3800,4000,4200,4400,4600,4800,5000,5200,5400,5600,5800,6000,6200,6400,6600,6800,7000,7200,7400,7600],
    "tickSize":{"condition":{"test":"datum.value % 1000 === 0","value":-11},"value":-5},"tickWidth":2,"tickColor":"black","labels":false,"domain":false,"grid":false,"title":null,"zindex":1}},
  "color":{"field":"s","type":"nominal","scale":{"domain":["Erwartungswert","obere Hüllkurve","untere Hüllkurve","Prüfwert"],"range":["#0000ff","#0000ff","#0000ff","#008000"]},"legend":{"title":null,"labelExpr":"datum.label === 'Prüfwert' ? 'Prüfwert\u00a0\u00a0\u00a0\u00a0\u00a0\u00a0\u00a0\u00a0\u00a0\u00a0\u00a0\u00a0\u00a0\u00a0\u00a0\u200b' : datum.label"}},
  "strokeDash":{"field":"s","type":"nominal","scale":{"domain":["Erwartungswert","obere Hüllkurve","untere Hüllkurve","Prüfwert"],"range":[[1,0],[12,6],[12,6],[10,6]]},"legend":{"title":null,"labelExpr":"datum.label === 'Prüfwert' ? 'Prüfwert\u00a0\u00a0\u00a0\u00a0\u00a0\u00a0\u00a0\u00a0\u00a0\u00a0\u00a0\u00a0\u00a0\u00a0\u00a0\u200b' : datum.label"}}
 }}
],
"resolve":{"axis":{"x":"independent","y":"independent"}}
}
